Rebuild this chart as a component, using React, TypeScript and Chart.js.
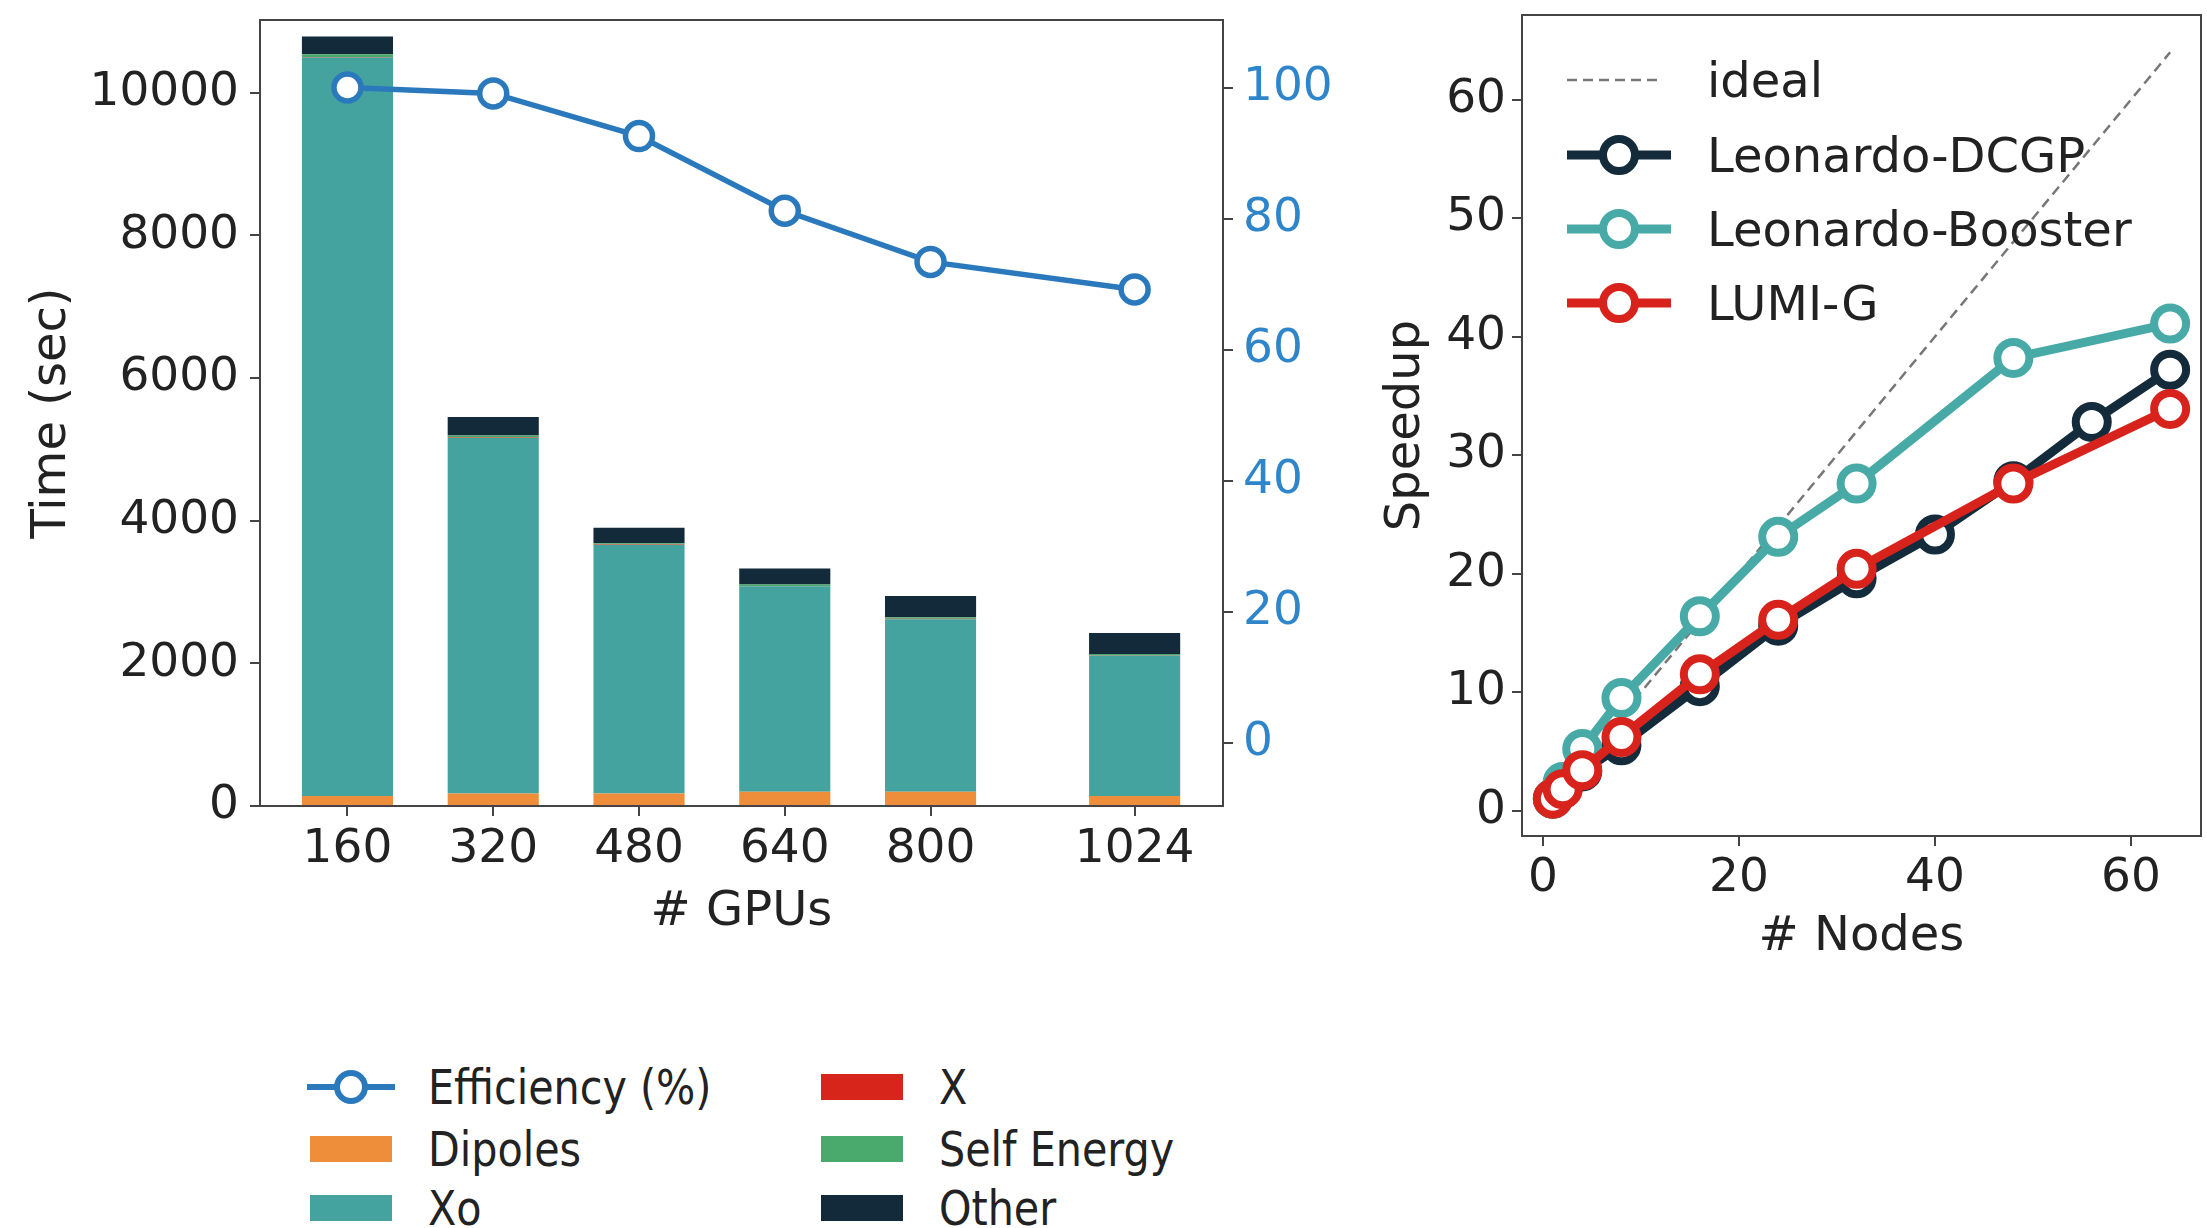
import React, { useEffect, useRef } from "react";
import { Chart, registerables } from "chart.js";

Chart.register(...registerables);
Chart.defaults.font.family = "'DejaVu Sans', sans-serif";

// ---------- Left chart data ----------
const GPUS = [160, 320, 480, 640, 800, 1024];
const DIPOLES = [140, 175, 175, 200, 200, 140];
const XO = [10355, 4985, 3485, 2880, 2420, 1965];
const X_TERM = [5, 5, 5, 5, 5, 5];
const SELF_ENERGY = [40, 30, 20, 20, 20, 20];
const OTHER = [250, 260, 215, 225, 300, 295];
const EFFICIENCY = [100, 99.1, 92.6, 81.2, 73.4, 69.2];
const TIME_TICKS = [0, 2000, 4000, 6000, 8000, 10000];
const EFF_TICKS = [0, 20, 40, 60, 80, 100];
const BAR_LABELS = ["Dipoles", "Xo", "X", "Self Energy", "Other"];

// ---------- Right chart data ----------
const IDEAL_NODES = [1, 64];
const IDEAL = [1, 64];
const DCGP_NODES = [1, 2, 4, 8, 16, 24, 32, 40, 48, 56, 64];
const DCGP = [1, 1.9, 3.3, 5.5, 10.5, 15.6, 19.6, 23.3, 27.8, 32.8, 37.2];
const BOOSTER_NODES = [1, 2, 4, 8, 16, 24, 32, 48, 64];
const BOOSTER = [1, 2.4, 5.2, 9.5, 16.4, 23.1, 27.6, 38.2, 41.1];
const LUMI_NODES = [1, 2, 4, 8, 16, 24, 32, 48, 64];
const LUMI = [1, 1.8, 3.4, 6.2, 11.5, 16.1, 20.4, 27.6, 33.9];
const NODE_TICKS = [0, 20, 40, 60];
const SPEEDUP_TICKS = [0, 10, 20, 30, 40, 50, 60];

// ---------- styles ----------
const C_BLUE = "#2b79bd";
const C_BLUE_TICK = "#2f85c9";
const BAR_COLORS = ["#ef8e3a", "#45a39f", "#d8251b", "#4aa96c", "#132a3b"];
const C_DCGP = "#142b3c";
const C_BOOST = "#48aaa6";
const C_LUMI = "#d8231c";
const TEXT = "#222";
const AXIS = "#444";

const framePlugin = {
  id: "frame",
  afterDraw(chart: any) {
    const { ctx, chartArea: a } = chart;
    ctx.save();
    ctx.strokeStyle = AXIS;
    ctx.lineWidth = 2;
    ctx.strokeRect(a.left, a.top, a.right - a.left, a.bottom - a.top);
    ctx.restore();
  },
};

const tickSetter = (vals: number[]) => (s: any) => {
  s.ticks = vals.map((v) => ({ value: v }));
};

function axisBase(extra: any) {
  return {
    offset: false,
    grid: { drawOnChartArea: false, tickLength: 10, color: AXIS, lineWidth: 2, offset: false },
    border: { display: true, color: AXIS, width: 2 },
    ...extra,
  };
}

function LeftChart() {
  const ref = useRef<HTMLCanvasElement>(null);
  useEffect(() => {
    const comps = [DIPOLES, XO, X_TERM, SELF_ENERGY, OTHER];
    let base = GPUS.map(() => 0);
    const barSets = comps.map((vals, k) => {
      const data = GPUS.map((g, i) => ({ x: g, y: [base[i], base[i] + vals[i]] }));
      base = base.map((b, i) => b + vals[i]);
      return {
        type: "bar",
        label: BAR_LABELS[k],
        data,
        backgroundColor: BAR_COLORS[k],
        borderWidth: 0,
        grouped: false,
        barPercentage: 0.625,
        categoryPercentage: 1,
        xAxisID: "x",
        yAxisID: "y",
        order: 1,
      };
    });
    const lineSet = {
      type: "line",
      label: "Efficiency (%)",
      data: GPUS.map((g, i) => ({ x: g, y: EFFICIENCY[i] })),
      borderColor: C_BLUE,
      borderWidth: 5.5,
      pointRadius: 13.5,
      pointBorderWidth: 5.5,
      pointBorderColor: C_BLUE,
      pointBackgroundColor: "#ffffff",
      xAxisID: "x",
      yAxisID: "y2",
      order: 0,
    };
    const chart = new Chart(ref.current as HTMLCanvasElement, {
      type: "bar",
      data: { datasets: [lineSet, ...barSets] as any },
      options: {
        animation: false,
        responsive: false,
        devicePixelRatio: 1,
        layout: { padding: { left: 24, top: 60, right: 0, bottom: 0 } },
        plugins: { legend: { display: false }, tooltip: { enabled: false } },
        scales: {
          x: axisBase({
            type: "linear",
            min: 64,
            max: 1121,
            afterBuildTicks: tickSetter(GPUS),
            afterFit: (s: any) => { s.height = 135; },
            ticks: { font: { size: 47 }, color: TEXT, padding: 6, maxRotation: 0, autoSkip: false, callback: (v: any) => String(v) },
            title: { display: true, text: "# GPUs", font: { size: 48 }, color: TEXT, padding: 0 },
          }),
          y: axisBase({
            type: "linear",
            position: "left",
            min: 0,
            max: 11020,
            afterBuildTicks: tickSetter(TIME_TICKS),
            afterFit: (s: any) => { s.width = 236; },
            ticks: { font: { size: 47 }, color: TEXT, padding: 11, callback: (v: any) => String(v) },
            title: { display: true, text: "Time (sec)", font: { size: 48 }, color: TEXT, padding: 0 },
          }),
          y2: axisBase({
            type: "linear",
            position: "right",
            min: -9.6,
            max: 110.3,
            afterBuildTicks: tickSetter(EFF_TICKS),
            afterFit: (s: any) => { s.width = 177; },
            ticks: { font: { size: 47 }, color: C_BLUE_TICK, padding: 10, callback: (v: any) => String(v) },
          }),
        },
      } as any,
      plugins: [framePlugin],
    });
    return () => chart.destroy();
  }, []);
  return <canvas ref={ref} width={1400} height={981} style={{ position: "absolute", left: 0, top: -40 }} />;
}

function RightChart() {
  const ref = useRef<HTMLCanvasElement>(null);
  useEffect(() => {
    const mk = (label: string, xs: number[], ys: number[], color: string, order: number) => ({
      label,
      data: xs.map((x, i) => ({ x, y: ys[i] })),
      borderColor: color,
      borderWidth: 9,
      pointRadius: 16,
      pointBorderWidth: 8,
      pointBorderColor: color,
      pointBackgroundColor: "#ffffff",
      order,
    });
    const chart = new Chart(ref.current as HTMLCanvasElement, {
      type: "line",
      data: {
        datasets: [
          {
            label: "ideal",
            data: IDEAL_NODES.map((x, i) => ({ x, y: IDEAL[i] })),
            borderColor: "#777777",
            borderWidth: 2.5,
            borderDash: [10, 6],
            pointRadius: 0,
            order: 3,
          },
          mk("Leonardo-DCGP", DCGP_NODES, DCGP, C_DCGP, 2),
          mk("Leonardo-Booster", BOOSTER_NODES, BOOSTER, C_BOOST, 1),
          mk("LUMI-G", LUMI_NODES, LUMI, C_LUMI, 0),
        ] as any,
      },
      options: {
        animation: false,
        responsive: false,
        devicePixelRatio: 1,
        layout: { padding: { left: 18, top: 55, right: 10, bottom: 0 } },
        plugins: { legend: { display: false }, tooltip: { enabled: false } },
        scales: {
          x: axisBase({
            type: "linear",
            min: -2.15,
            max: 67.15,
            afterBuildTicks: tickSetter(NODE_TICKS),
            afterFit: (s: any) => { s.height = 130; },
            ticks: { font: { size: 47 }, color: TEXT, padding: 5, maxRotation: 0, autoSkip: false },
            title: { display: true, text: "# Nodes", font: { size: 48 }, color: TEXT, padding: 0 },
          }),
          y: axisBase({
            type: "linear",
            min: -2.15,
            max: 67.15,
            afterBuildTicks: tickSetter(SPEEDUP_TICKS),
            afterFit: (s: any) => { s.width = 144; },
            ticks: { font: { size: 47 }, color: TEXT, padding: 6 },
            title: { display: true, text: "Speedup", font: { size: 48 }, color: TEXT, padding: 0 },
          }),
        },
      } as any,
      plugins: [framePlugin],
    });
    return () => chart.destroy();
  }, []);
  return <canvas ref={ref} width={865} height={1006} style={{ position: "absolute", left: 1360, top: -40 }} />;
}

function LineIcon({ color, w, lw, r, bw, dash }: any) {
  const h = 2 * (r + bw) + 4;
  return (
    <svg width={w} height={h} style={{ display: "block" }}>
      <line x1={0} y1={h / 2} x2={w} y2={h / 2} stroke={color} strokeWidth={lw} strokeDasharray={dash} />
      {r > 0 && <circle cx={w / 2} cy={h / 2} r={r} fill="#fff" stroke={color} strokeWidth={bw} />}
    </svg>
  );
}

function LegendItem({ x, y, w, textX, icon, text, condensed }: any) {
  return (
    <>
      <div style={{ position: "absolute", left: x, top: y, transform: "translateY(-50%)", width: w }}>{icon}</div>
      <div
        style={{
          position: "absolute",
          left: textX,
          top: y - 30,
          height: 60,
          lineHeight: "60px",
          fontSize: 48,
          color: TEXT,
          whiteSpace: "nowrap",
          transform: condensed ? "scaleX(0.86)" : undefined,
          transformOrigin: "left center",
        }}
      >
        {text}
      </div>
    </>
  );
}

function Patch({ color }: any) {
  return <div style={{ width: 82, height: 26, background: color }} />;
}

export default function App() {
  const leftRows = [1087, 1149, 1208];
  const rightRows = [80, 155, 229, 303];
  return (
    <div
      style={{
        position: "fixed",
        left: 0,
        top: 0,
        width: 2207,
        height: 1228,
        overflow: "hidden",
        background: "#fff",
        fontFamily: "'DejaVu Sans', sans-serif",
      }}
    >
      <LeftChart />
      <RightChart />
      {/* left legend */}
      <LegendItem x={307} y={leftRows[0]} w={88} textX={428} condensed text="Efficiency (%)"
        icon={<LineIcon color={C_BLUE} w={88} lw={6} r={14} bw={6} />} />
      <LegendItem x={310} y={leftRows[1]} w={82} textX={428} condensed text={BAR_LABELS[0]} icon={<Patch color={BAR_COLORS[0]} />} />
      <LegendItem x={310} y={leftRows[2]} w={82} textX={428} condensed text={BAR_LABELS[1]} icon={<Patch color={BAR_COLORS[1]} />} />
      <LegendItem x={821} y={leftRows[0]} w={82} textX={939} condensed text={BAR_LABELS[2]} icon={<Patch color={BAR_COLORS[2]} />} />
      <LegendItem x={821} y={leftRows[1]} w={82} textX={939} condensed text={BAR_LABELS[3]} icon={<Patch color={BAR_COLORS[3]} />} />
      <LegendItem x={821} y={leftRows[2]} w={82} textX={939} condensed text={BAR_LABELS[4]} icon={<Patch color={BAR_COLORS[4]} />} />
      {/* right legend */}
      <LegendItem x={1567} y={rightRows[0]} w={96} textX={1707} text="ideal"
        icon={<LineIcon color="#777777" w={96} lw={2.5} r={0} bw={0} dash="10 6" />} />
      <LegendItem x={1567} y={rightRows[1]} w={104} textX={1707} text="Leonardo-DCGP"
        icon={<LineIcon color={C_DCGP} w={104} lw={9} r={16} bw={8} />} />
      <LegendItem x={1567} y={rightRows[2]} w={104} textX={1707} text="Leonardo-Booster"
        icon={<LineIcon color={C_BOOST} w={104} lw={9} r={16} bw={8} />} />
      <LegendItem x={1567} y={rightRows[3]} w={104} textX={1707} text="LUMI-G"
        icon={<LineIcon color={C_LUMI} w={104} lw={9} r={16} bw={8} />} />
    </div>
  );
}
